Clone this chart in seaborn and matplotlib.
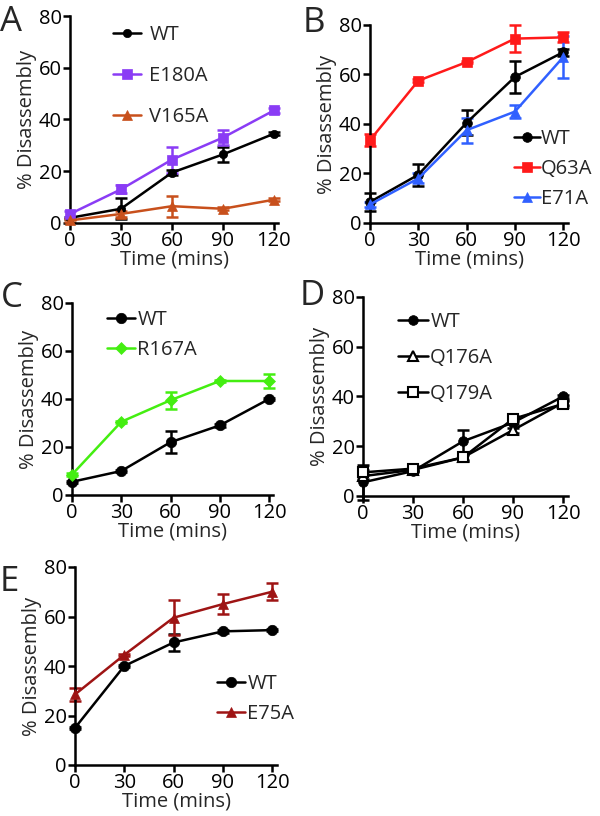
import matplotlib
matplotlib.use('Agg')
import matplotlib.pyplot as plt
import seaborn as sns

sns.set_style('ticks')
plt.rcParams['font.family'] = ['Open Sans', 'DejaVu Sans']

# datos
times = [0, 30, 60, 90, 120]

a_wt = [2, 5.5, 19.5, 26.5, 34.5]
a_wt_err = [0.5, 4, 1, 3, 0.5]
a_e180a = [3.5, 13, 24.5, 33, 43.5]
a_e180a_err = [1, 1.5, 5, 3, 1]
a_v165a = [1, 3.5, 6.5, 5.5, 9]
a_v165a_err = [0.5, 1, 4, 0.5, 0.5]

b_wt = [8.5, 19.5, 40.5, 59, 69]
b_wt_err = [3.5, 4.5, 5, 6.5, 1.5]
b_q63a = [33.5, 57.5, 65, 74.5, 75]
b_q63a_err = [2.5, 0.5, 0.5, 5.5, 2]
b_e71a = [7.5, 18, 37.5, 45, 67]
b_e71a_err = [1, 2, 5, 2.5, 8.5]

c_wt = [5.5, 10, 22, 29, 40]
c_wt_err = [0.5, 0.5, 4.5, 0.5, 0.5]
c_r167a = [8.5, 30.5, 39.5, 47.5, 47.5]
c_r167a_err = [0.5, 0.5, 3.5, 0.5, 3]

d_wt = [5.5, 10, 22, 29.5, 40]
d_wt_err = [7, 0.5, 4.5, 0.5, 0.5]
d_q176a = [8, 10.5, 15.5, 26.5, 37.5]
d_q176a_err = [1, 0.5, 1, 1, 1]
d_q179a = [9.5, 11, 15.5, 31, 37]
d_q179a_err = [1, 1, 1.5, 1, 1]

e_wt = [15, 40, 49.5, 54, 54.5]
e_wt_err = [0.5, 0.5, 3.5, 0.5, 0.5]
e_e75a = [28.5, 44.5, 59.5, 65, 70]
e_e75a_err = [2.5, 0.5, 7, 4, 3.5]

W, H = 600, 816
FS = 14.5
fig = plt.figure(figsize=(6, 8.16), dpi=100)


def make_ax(left, top, right, bottom, xmax):
    # coordenadas en pixeles -> fraccion de figura
    ax = fig.add_axes([left / W, 1 - bottom / H, (right - left) / W, (bottom - top) / H])
    ax.set_xlim(0, xmax)
    ax.set_ylim(0, 80)
    ax.set_xticks(times)
    ax.set_yticks([0, 20, 40, 60, 80])
    sns.despine(ax=ax)
    for s in ['left', 'bottom']:
        ax.spines[s].set_linewidth(1.8)
        ax.spines[s].set_color('black')
    ax.tick_params(width=1.8, length=5, labelsize=FS, pad=1, colors='black')
    ax.set_xlabel('Time (mins)', fontsize=FS, labelpad=-1)
    ax.set_ylabel('% Disassembly', fontsize=FS, labelpad=1)
    ax.set_facecolor('none')
    return ax


def serie(ax, y, err, label, color, marker, ms=7, face=None):
    sns.lineplot(x=times, y=y, ax=ax, color=color, marker=marker, markersize=ms,
                 markerfacecolor=face if face else color, markeredgecolor=color,
                 markeredgewidth=1.5 if face else 0.5, linewidth=1.8, label=label,
                 clip_on=False, zorder=3)
    ax.errorbar(times, y, yerr=err, fmt='none', ecolor=color, elinewidth=1.8,
                capsize=4, capthick=1.8, clip_on=False, zorder=2)


def leyenda(ax, x, y, spacing, hl=1.4, pad=0.4):
    ax.legend(loc='upper left', bbox_to_anchor=(x / W, 1 - y / H),
              bbox_transform=fig.transFigure, frameon=False, fontsize=FS,
              handlelength=hl, handletextpad=pad, labelspacing=spacing,
              borderpad=0, borderaxespad=0)


# A
ax = make_ax(70, 16, 278, 223, 122.4)
serie(ax, a_wt, a_wt_err, 'WT', 'black', 'o', ms=6)
serie(ax, a_e180a, a_e180a_err, 'E180A', '#8A3CF5', 's', ms=7.5)
serie(ax, a_v165a, a_v165a_err, 'V165A', '#C8501C', '^', ms=7.5)
leyenda(ax, 113, 25, 1.05)

# B
ax = make_ax(370, 25, 568, 223, 123)
serie(ax, b_wt, b_wt_err, 'WT', 'black', 'o', ms=7)
serie(ax, b_q63a, b_q63a_err, 'Q63A', '#FF1A1A', 's', ms=7.5)
serie(ax, b_e71a, b_e71a_err, 'E71A', '#3060FF', '^', ms=7.5)
leyenda(ax, 514, 129, 0.5, hl=1.3, pad=0.05)

# C
ax = make_ax(72, 303, 273, 495, 122.4)
serie(ax, c_wt, c_wt_err, 'WT', 'black', 'o', ms=7.5)
serie(ax, c_r167a, c_r167a_err, 'R167A', '#44EE11', 'D', ms=6.5)
leyenda(ax, 107, 310, 0.5, pad=0.1)

# D
ax = make_ax(363, 297, 568, 496, 123)
serie(ax, d_wt, d_wt_err, 'WT', 'black', 'o', ms=7)
serie(ax, d_q176a, d_q176a_err, 'Q176A', 'black', '^', ms=7.5, face='white')
serie(ax, d_q179a, d_q179a_err, 'Q179A', 'black', 's', ms=7.5, face='white')
leyenda(ax, 398, 312, 0.8, hl=1.5, pad=0.1)

# E
ax = make_ax(75, 567, 277, 765, 123)
serie(ax, e_wt, e_wt_err, 'WT', 'black', 'o', ms=7.5)
serie(ax, e_e75a, e_e75a_err, 'E75A', '#9E1414', '^', ms=7.5)
leyenda(ax, 217, 674, 0.5, pad=0.1)

# letras de panel
for letra, px, py in [('A', 11, 22), ('B', 314, 23), ('C', 12, 298), ('D', 312, 296), ('E', 9, 582)]:
    fig.text(px / W, 1 - py / H, letra, fontsize=25, ha='center', va='center')

plt.savefig('out.png', dpi=100)
